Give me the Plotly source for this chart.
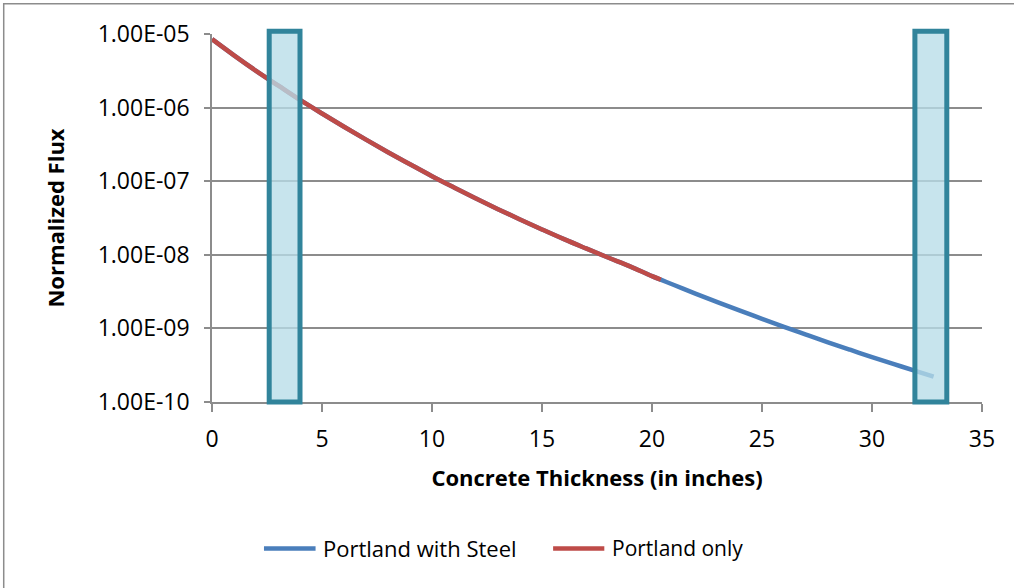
import plotly.graph_objects as go

# Data
thickness_steel = [0, 1, 2, 3, 4, 5, 6, 7, 8, 9, 10, 11, 12, 13, 14, 15, 16, 17, 18, 19, 20,
                   21, 22, 23, 24, 25, 26, 27, 28, 29, 30, 31, 32, 32.8]
flux_steel = [8.51e-6, 5.13e-6, 3.16e-6, 2.00e-6, 1.27e-6, 8.32e-7, 5.50e-7, 3.67e-7, 2.48e-7,
              1.70e-7, 1.17e-7, 8.22e-8, 5.82e-8, 4.17e-8, 3.02e-8, 2.21e-8, 1.63e-8, 1.22e-8,
              9.18e-9, 6.97e-9, 5.13e-9, 3.89e-9, 2.95e-9, 2.26e-9, 1.74e-9, 1.35e-9, 1.05e-9,
              8.22e-10, 6.46e-10, 5.13e-10, 4.07e-10, 3.27e-10, 2.63e-10, 2.21e-10]

thickness_portland = [0, 1, 2, 3, 4, 5, 6, 7, 8, 9, 10, 11, 12, 13, 14, 15, 16, 17, 18, 19, 20, 20.4]
flux_portland = [8.51e-6, 5.13e-6, 3.16e-6, 2.00e-6, 1.27e-6, 8.32e-7, 5.50e-7, 3.67e-7, 2.48e-7,
                 1.70e-7, 1.17e-7, 8.22e-8, 5.82e-8, 4.17e-8, 3.02e-8, 2.21e-8, 1.63e-8, 1.22e-8,
                 9.18e-9, 6.97e-9, 5.13e-9, 4.60e-9]

highlight_ranges = [(2.6, 4.0), (31.95, 33.4)]

y_tickvals = [1e-10, 1e-9, 1e-8, 1e-7, 1e-6, 1e-5]
y_ticktext = ["1.00E-10", "1.00E-09", "1.00E-08", "1.00E-07", "1.00E-06", "1.00E-05"]
x_tickvals = [0, 5, 10, 15, 20, 25, 30, 35]

series_names = ["Portland with Steel", "Portland only"]
BLUE = "#4a7ebb"
RED = "#be4b48"
GRID = "#8c8c8c"
FONT = "Open Sans"

fig = go.Figure()
fig.add_trace(go.Scatter(x=thickness_steel, y=flux_steel, mode="lines", name=series_names[0],
                         line=dict(color=BLUE, width=4.5, shape="spline"), showlegend=False))
fig.add_trace(go.Scatter(x=thickness_portland, y=flux_portland, mode="lines", name=series_names[1],
                         line=dict(color=RED, width=4.5, shape="spline"), showlegend=False))

shapes = []
for x0, x1 in highlight_ranges:
    shapes.append(dict(type="rect", xref="x", yref="paper", x0=x0, x1=x1, y0=0.0, y1=1.0076,
                       line=dict(color="#31849b", width=5),
                       fillcolor="rgba(183,221,232,0.78)", layer="above"))

# outer chart border
shapes.append(dict(type="rect", xref="paper", yref="paper", x0=-0.2705, x1=1.2, y0=-0.7, y1=1.0823,
                   line=dict(color="#8c8c8c", width=1.5), fillcolor="rgba(0,0,0,0)", layer="below"))

# custom legend keys
leg_y = -0.398
shapes.append(dict(type="line", xref="paper", yref="paper", x0=0.0675, x1=0.1345, y0=leg_y, y1=leg_y,
                   line=dict(color=BLUE, width=4.5)))
shapes.append(dict(type="line", xref="paper", yref="paper", x0=0.4430, x1=0.5095, y0=leg_y, y1=leg_y,
                   line=dict(color=RED, width=4.5)))

annotations = [
    dict(text=series_names[0], xref="paper", yref="paper", x=0.1410, y=leg_y, xanchor="left",
         yanchor="middle", showarrow=False, font=dict(family=FONT, size=22, color="#000")),
    dict(text=series_names[1], xref="paper", yref="paper", x=0.5165, y=leg_y, xanchor="left",
         yanchor="middle", showarrow=False, font=dict(family=FONT, size=21, color="#000")),
]

fig.update_layout(
    width=1014, height=588,
    margin=dict(l=212, r=32, t=34, b=186),
    paper_bgcolor="white", plot_bgcolor="white",
    font=dict(family=FONT, size=23, color="#000"),
    shapes=shapes, annotations=annotations,
    showlegend=False,
)
fig.update_xaxes(range=[0, 35], tickvals=x_tickvals, showgrid=False, zeroline=False,
                 showline=True, linecolor=GRID, linewidth=1.5,
                 ticks="outside", ticklen=8, tickcolor=GRID, tickwidth=1.5,
                 ticklabelstandoff=8,
                 tickfont=dict(family=FONT, size=23),
                 title=dict(text="<b>Concrete Thickness (in inches)</b>", font=dict(family=FONT, size=22),
                            standoff=17))
fig.update_yaxes(type="log", range=[-10, -5], tickvals=y_tickvals, ticktext=y_ticktext,
                 showgrid=True, gridcolor=GRID, gridwidth=1.5, zeroline=False,
                 showline=True, linecolor=GRID, linewidth=1.5,
                 ticks="outside", ticklen=6, tickcolor=GRID, tickwidth=1.5,
                 ticklabelstandoff=10,
                 tickfont=dict(family=FONT, size=23),
                 title=dict(text="<b>Normalized Flux</b>", font=dict(family=FONT, size=22), standoff=27))

fig.write_html("out.html")
